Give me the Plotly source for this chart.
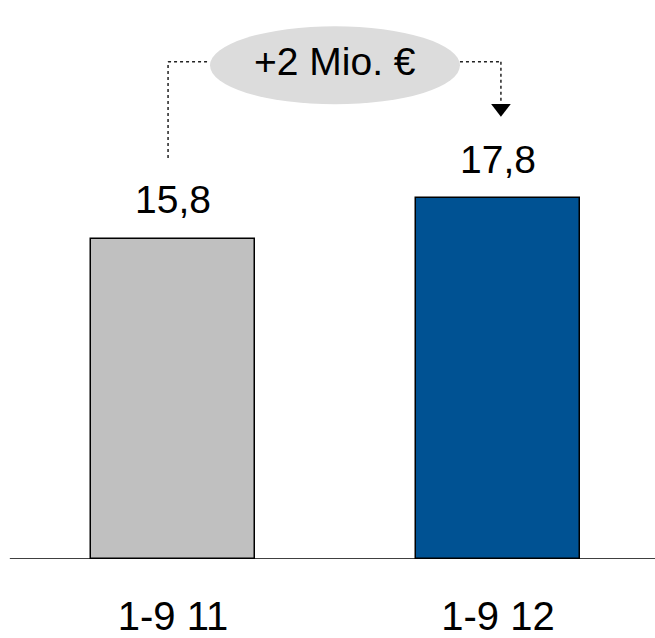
import plotly.graph_objects as go

# Data
categories = ["1-9 11", "1-9 12"]
values = [15.8, 17.8]
value_labels = ["15,8", "17,8"]
bar_colors = ["#c0c0c0", "#005293"]
delta_label = "+2 Mio. €"

FONT = "Liberation Sans, Arial, Helvetica, sans-serif"
x_pos = list(range(len(categories)))

fig = go.Figure()

fig.add_trace(go.Bar(
    x=x_pos,
    y=values,
    width=0.505,
    marker=dict(color=bar_colors, line=dict(color="black", width=1.5)),
    hoverinfo="skip",
    showlegend=False,
))

# value labels above the bars
for xi, v, lab in zip(x_pos, values, value_labels):
    fig.add_annotation(
        x=xi, y=v, text=lab, showarrow=False,
        yanchor="middle", yshift=39,
        font=dict(family=FONT, size=39, color="black"),
    )

# bracket showing the change between the two periods
y_link = max(values) + 6.75
left_x, right_x = x_pos[0] - 0.015, x_pos[1] + 0.009
ell_x0, ell_x1 = 0.114, 0.883
dot = dict(color="#222222", width=1.5, dash="dot")

fig.add_shape(type="line", x0=left_x, x1=left_x, y0=values[0] + 4.0, y1=y_link, line=dot)
fig.add_shape(type="line", x0=left_x, x1=ell_x0, y0=y_link, y1=y_link, line=dot)
fig.add_shape(type="line", x0=ell_x1, x1=right_x, y0=y_link, y1=y_link, line=dot)
fig.add_shape(type="line", x0=right_x, x1=right_x, y0=y_link, y1=values[1] + 4.8, line=dot)

fig.add_shape(type="circle", x0=ell_x0, x1=ell_x1, y0=y_link - 2.1, y1=y_link + 1.75,
              fillcolor="#dcdcdc", line=dict(width=0), layer="below")
fig.add_annotation(
    x=(ell_x0 + ell_x1) / 2, y=y_link, text=delta_label, showarrow=False,
    yanchor="middle", font=dict(family=FONT, size=39, color="black"),
)

# arrowhead pointing at the second bar's label
fig.add_trace(go.Scatter(
    x=[right_x], y=[values[1] + 4.45], mode="markers",
    marker=dict(symbol="triangle-down", size=17, color="black"),
    hoverinfo="skip", showlegend=False, cliponaxis=False,
))

# baseline
fig.add_shape(type="line", xref="paper", x0=0.015, x1=1, y0=0, y1=0,
              line=dict(color="black", width=1.5))

fig.update_layout(
    template="none",
    width=655, height=638,
    margin=dict(l=0, r=0, t=0, b=79, autoexpand=False),
    paper_bgcolor="white", plot_bgcolor="white",
    bargap=0,
    xaxis=dict(
        range=[-0.532, 1.483], tickvals=x_pos, ticktext=categories,
        showgrid=False, zeroline=False, showline=False, ticks="",
        automargin=False,
        tickfont=dict(family=FONT, size=40, color="black"),
        ticklabelstandoff=30,
    ),
    yaxis=dict(range=[0, 27.6], visible=False, automargin=False),
)

fig.write_html("out.html")
